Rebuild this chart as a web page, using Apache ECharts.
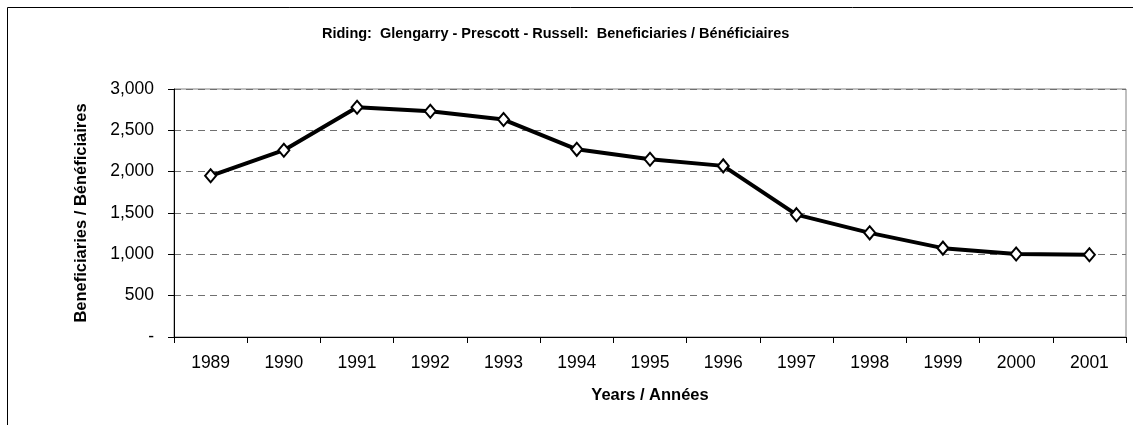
<!DOCTYPE html>
<html>
<head>
<meta charset="utf-8">
<script src="https://cdn.jsdelivr.net/npm/echarts@6/dist/echarts.min.js"></script>
<style>
html,body{margin:0;padding:0;background:#fff;}
#chart{width:1133px;height:425px;}
</style>
</head>
<body>
<div id="chart"></div>
<script>
var years = ['1989','1990','1991','1992','1993','1994','1995','1996','1997','1998','1999','2000','2001'];
var beneficiaries = [1950, 2260, 2780, 2730, 2630, 2270, 2150, 2070, 1480, 1260, 1075, 1005, 995];
var yTicks = [0, 500, 1000, 1500, 2000, 2500, 3000];

var bold = '"Liberation Sans", Arial, sans-serif';
var plain = '"Liberation Sans", Arial, sans-serif';

//千位分隔, 0 显示为 "-"
function fmt(v){
	if (v === 0) return '-';
	return v.toString().replace(/\B(?=(\d{3})+(?!\d))/g, ',');
}

var option = {
	backgroundColor: '#fff',
	animation: false,
	title: {
		text: 'Riding:  Glengarry - Prescott - Russell:  Beneficiaries / Bénéficiaires',
		left: 317,
		top: 21,
		textStyle: {fontFamily: bold, fontSize: 14.5, fontWeight: 'bold', color: '#000'}
	},
	graphic: [
		// 外框 (只有上边和左边在画面内)
		{type: 'rect', shape: {x: 7.5, y: 7.5, width: 1200, height: 500}, style: {fill: null, stroke: '#000', lineWidth: 1}, z: -1},
		// 绘图区边框
		{type: 'rect', shape: {x: 174, y: 89, width: 952, height: 248}, style: {fill: null, stroke: '#808080', lineWidth: 1}, z: 0}
	],
	grid: {left: 174, top: 89, right: 7, bottom: 88, containLabel: false},
	xAxis: {
		type: 'category',
		data: years,
		boundaryGap: true,
		name: 'Years / Années',
		nameLocation: 'middle',
		nameGap: 50,
		nameTextStyle: {fontFamily: bold, fontSize: 16.5, fontWeight: 'bold', color: '#000'},
		axisLine: {lineStyle: {color: '#000', width: 1}},
		axisTick: {show: true, alignWithLabel: false, length: 6, lineStyle: {color: '#000'}},
		axisLabel: {fontFamily: plain, fontSize: 17.5, color: '#000', margin: 17}
	},
	yAxis: {
		type: 'value',
		min: 0,
		max: 3000,
		interval: 500,
		name: 'Beneficiaries / Bénéficiaires',
		nameLocation: 'middle',
		nameGap: 84,
		nameRotate: 90,
		nameTextStyle: {fontFamily: bold, fontSize: 16.5, fontWeight: 'bold', color: '#000'},
		axisLine: {show: true, lineStyle: {color: '#000', width: 1}},
		axisTick: {show: true, length: 6, lineStyle: {color: '#000'}},
		axisLabel: {fontFamily: plain, fontSize: 17.5, color: '#000', margin: 20, formatter: fmt},
		splitLine: {show: true, lineStyle: {color: '#707070', type: [7, 5], width: 1}}
	},
	series: [
		{
			name: 'Beneficiaries',
			type: 'line',
			data: beneficiaries,
			symbol: 'diamond',
			symbolSize: [11, 13],
			lineStyle: {color: '#000', width: 4},
			itemStyle: {color: '#fff', borderColor: '#000', borderWidth: 2}
		}
	]
};

var chart = echarts.init(document.getElementById('chart'));
chart.setOption(option);
</script>
</body>
</html>
